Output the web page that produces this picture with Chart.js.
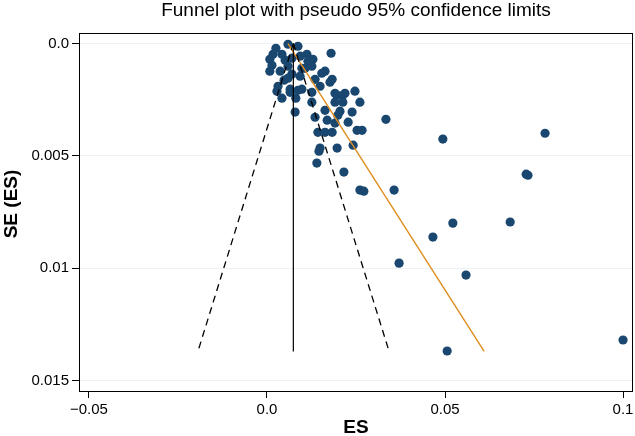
<!DOCTYPE html>
<html>
<head>
<meta charset="utf-8">
<script src="https://cdn.jsdelivr.net/npm/chart.js@4/dist/chart.umd.min.js"></script>
<style>
  html, body { margin: 0; padding: 0; background: #fff; }
  canvas { display: block; }
</style>
</head>
<body>
<canvas id="c" width="635" height="436"></canvas>
<script>
// ---- data ----
const esValues = [
  0.0059, 0.0087, 0.0017, 0.0008, 0.0042, 0.0112, 0.0115, 0.0098, 0.0008, 0.0037,
  0.0059, 0.0093, 0.0031, 0.0059, 0.0065, 0.0098, 0.0180, 0.0129, 0.0126, 0.0163,
  0.0183, 0.0135, 0.0149, 0.0191, 0.0219, 0.0247, 0.0028, 0.0042, 0.0065, 0.0087,
  0.0079, 0.0126, 0.0126, 0.0197, 0.0213, 0.0213, 0.0261, 0.0191, 0.0163, 0.0239,
  0.0199, 0.0135, 0.0169, 0.0228, 0.0191, 0.0143, 0.0163, 0.0183, 0.0253, 0.0267,
  0.0149, 0.0197, 0.0242, 0.0334, 0.0494, 0.0781, 0.0728, 0.0733, 0.0357, 0.0261,
  0.0272, 0.0216, 0.0140, 0.0146, 0.0522, 0.0683, 0.0466, 0.0371, 0.0559, 0.0506,
  0.1000, 0.0025, 0.0051, 0.0070, 0.0093, 0.0070, 0.0048, 0.0081, 0.0177, 0.0154,
  0.0205, 0.0107, 0.0014
];
const seValues = [
  0.00003, 0.00012, 0.00048, 0.00070, 0.00048, 0.00048, 0.00079, 0.00110, 0.00123, 0.00123,
  0.00101, 0.00145, 0.00190, 0.00154, 0.00203, 0.00203, 0.00043, 0.00070, 0.00101, 0.00123,
  0.00159, 0.00159, 0.00190, 0.00221, 0.00221, 0.00212, 0.00212, 0.00243, 0.00217, 0.00208,
  0.00305, 0.00261, 0.00217, 0.00230, 0.00230, 0.00261, 0.00261, 0.00261, 0.00297, 0.00305,
  0.00319, 0.00328, 0.00341, 0.00350, 0.00354, 0.00395, 0.00395, 0.00395, 0.00386, 0.00386,
  0.00465, 0.00465, 0.00452, 0.00337, 0.00425, 0.00399, 0.00581, 0.00586, 0.00652, 0.00652,
  0.00657, 0.00572, 0.00532, 0.00479, 0.00799, 0.00794, 0.00861, 0.00977, 0.01030, 0.01368,
  0.01319, 0.00021, 0.00074, 0.00065, 0.00056, 0.00136, 0.00163, 0.00243, 0.00172, 0.00132,
  0.00301, 0.00110, 0.00097
];

// reference lines (end points)
const lineTopSE = 0.0;
const lineBottomSE = 0.01370;
const pooledES = 0.0074;
const lowerLimitEndES = -0.0194;
const upperLimitEndES = 0.0343;
const regTopES = 0.0059;
const regBottomES = 0.0610;

// axes
const xTickValues = [-0.05, 0, 0.05, 0.1];
const xTickLabels = ["\u22120.05", "0.0", "0.05", "0.1"];
const yTickValues = [0, 0.005, 0.01, 0.015];
const yTickLabels = ["0.0", "0.005", "0.01", "0.015"];

const titleText = "Funnel plot with pseudo 95% confidence limits";
const xTitle = "ES";
const yTitle = "SE (ES)";

const FONT = "'Liberation Sans', Arial, Helvetica, sans-serif";

const points = esValues.map((v, i) => ({ x: v, y: seValues[i] }));

const framePlugin = {
  id: 'frame',
  afterDraw(chart) {
    const { ctx, chartArea: a } = chart;
    ctx.save();
    ctx.strokeStyle = '#000';
    ctx.lineWidth = 1;
    const l = Math.round(a.left) + 0.5, t = Math.round(a.top) + 0.5;
    const r = Math.round(a.right) - 0.5, b = Math.round(a.bottom) + 0.5;
    ctx.strokeRect(l, t, r - l, b - t);
    const cx = (a.left + a.right) / 2;
    ctx.fillStyle = '#000';
    ctx.textAlign = 'center';
    ctx.textBaseline = 'alphabetic';
    ctx.font = "19px " + FONT;
    ctx.fillText(titleText, cx, 16);
    ctx.font = "bold 19px " + FONT;
    ctx.fillText(xTitle, cx, 433);
    ctx.save();
    ctx.translate(17, (a.top + a.bottom) / 2 - 8);
    ctx.rotate(-Math.PI / 2);
    ctx.fillText(yTitle, 0, 0);
    ctx.restore();
    ctx.restore();
  }
};

new Chart(document.getElementById('c'), {
  type: 'scatter',
  data: {
    datasets: [
      {
        type: 'line', label: 'pooled', order: 1,
        data: [{ x: pooledES, y: lineTopSE }, { x: pooledES, y: lineBottomSE }],
        borderColor: '#000', borderWidth: 1.2, pointRadius: 0, fill: false
      },
      {
        type: 'line', label: 'lower', order: 1,
        data: [{ x: pooledES, y: lineTopSE }, { x: lowerLimitEndES, y: lineBottomSE }],
        borderColor: '#000', borderWidth: 1.3, borderDash: [7, 5], pointRadius: 0, fill: false
      },
      {
        type: 'line', label: 'upper', order: 1,
        data: [{ x: pooledES, y: lineTopSE }, { x: upperLimitEndES, y: lineBottomSE }],
        borderColor: '#000', borderWidth: 1.3, borderDash: [7, 5], pointRadius: 0, fill: false
      },
      {
        type: 'line', label: 'regression', order: 1,
        data: [{ x: regTopES, y: lineTopSE }, { x: regBottomES, y: lineBottomSE }],
        borderColor: '#e08c1e', borderWidth: 1.4, pointRadius: 0, fill: false
      },
      {
        label: 'studies', order: 10,
        data: points,
        backgroundColor: '#1a476f', borderWidth: 0, pointRadius: 4.6, pointHoverRadius: 4.6
      }
    ]
  },
  options: {
    responsive: false,
    animation: false,
    devicePixelRatio: 1,
    events: [],
    layout: { autoPadding: false, padding: { top: 33, right: 2, left: 0, bottom: 0 } },
    plugins: { legend: { display: false }, tooltip: { enabled: false }, title: { display: false } },
    scales: {
      x: {
        type: 'linear',
        min: -0.0528, max: 0.1028,
        afterBuildTicks: s => { s.ticks = xTickValues.map(v => ({ value: v })); },
        afterFit: s => { s.height = 45; s.paddingLeft = 0; s.paddingRight = 0; },
        ticks: {
          autoSkip: false, maxRotation: 0, padding: 3,
          color: '#000', font: { family: FONT, size: 15 },
          callback: (v, i) => xTickLabels[i]
        },
        grid: { drawOnChartArea: false, color: '#000', tickColor: '#000', tickLength: 7, lineWidth: 1 },
        border: { display: false }
      },
      y: {
        type: 'linear',
        reverse: true,
        min: -0.00047, max: 0.01546,
        afterBuildTicks: s => { s.ticks = yTickValues.map(v => ({ value: v })); },
        afterFit: s => { s.width = 79; s.paddingTop = 0; s.paddingBottom = 0; },
        ticks: {
          autoSkip: false, padding: 3,
          color: '#000', font: { family: FONT, size: 15 },
          callback: (v, i) => yTickLabels[i]
        },
        grid: { drawOnChartArea: true, color: '#eaf2f3', tickColor: '#000', tickLength: 7, lineWidth: 1 },
        border: { display: false }
      }
    }
  },
  plugins: [framePlugin]
});
</script>
</body>
</html>
